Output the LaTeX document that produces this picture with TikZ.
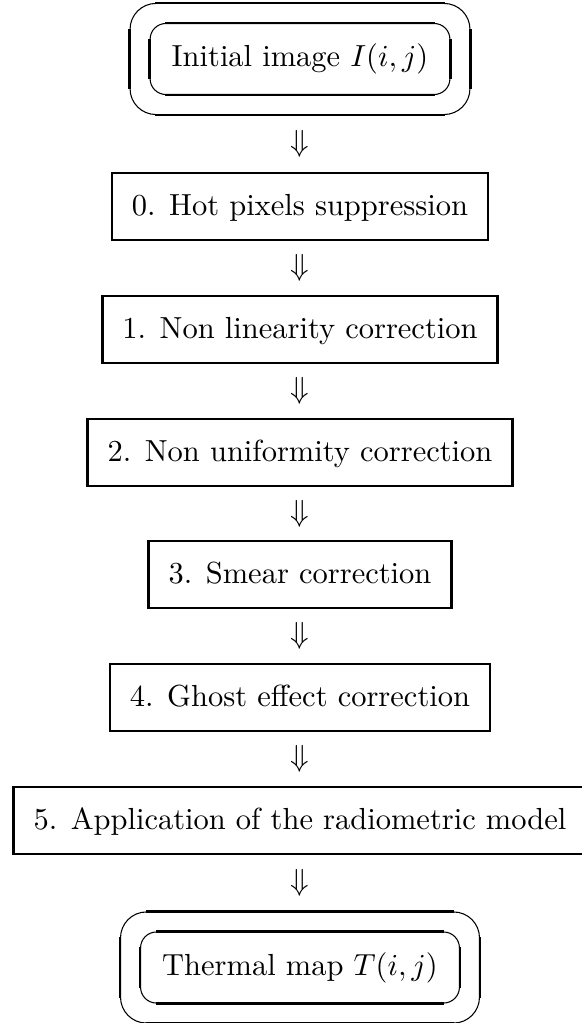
\documentclass[tikz,border=0pt]{standalone}
\usetikzlibrary{calc,fit}
\begin{document}
\begin{tikzpicture}[x=0.328pt,y=-0.328pt,
  stepbox/.style={draw, line width=0.8pt, inner xsep=6.6pt, inner ysep=6.23pt, text height=7.7pt, text depth=1.8pt},
  ovalin/.style={draw, line width=0.35pt, rounded corners=5.2pt, inner xsep=7.1pt, minimum height=23.3pt, text height=7.7pt, text depth=2.5pt},
  ovalout/.style={draw, line width=0.35pt, rounded corners=8.5pt, inner sep=6.4pt},
  thickedge/.style={line width=0.85pt},
  flow/.style={inner sep=0pt}]
\useasboundingbox (0,0) rectangle (582,1023);
% terminal boxes
\node[ovalin] (iI) at (300,59) {Initial image $I(i,j)$};
\node[ovalout, fit=(iI)] (oI) {};
\node[ovalin] (iT) at (300,967.5) {Thermal map $T(i,j)$};
\node[ovalout, fit=(iT)] (oT) {};
% process boxes
\node[stepbox] (b0) at (300,206.5) {0. Hot pixels suppression};
\node[stepbox] (b1) at (300,329.5) {1. Non linearity correction};
\node[stepbox] (b2) at (300,452.5) {2. Non uniformity correction};
\node[stepbox] (b3) at (300,574.5) {3. Smear correction};
\node[stepbox] (b4) at (300,697.5) {4. Ghost effect correction};
\node[stepbox] (b5) at (300,820.5) {5. Application of the radiometric model};
% thick straight parts of the oval frames
\foreach \n/\r in {iI/5.2pt, oI/8.5pt, iT/5.2pt, oT/8.5pt} {
  \draw[thickedge] ($(\n.north west)+(\r,0pt)$) -- ($(\n.north east)+(-\r,0pt)$);
  \draw[thickedge] ($(\n.south west)+(\r,0pt)$) -- ($(\n.south east)+(-\r,0pt)$);
  \draw[thickedge] ($(\n.north west)+(0pt,-\r)$) -- ($(\n.south west)+(0pt,\r)$);
  \draw[thickedge] ($(\n.north east)+(0pt,-\r)$) -- ($(\n.south east)+(0pt,\r)$);
}
% flow arrows
\node[flow] (a0) at ($(oI.south)!0.5!(b0.north)$) {$\Downarrow$};
\node[flow] (a1) at ($(b0.south)!0.5!(b1.north)$) {$\Downarrow$};
\node[flow] (a2) at ($(b1.south)!0.5!(b2.north)$) {$\Downarrow$};
\node[flow] (a3) at ($(b2.south)!0.5!(b3.north)$) {$\Downarrow$};
\node[flow] (a4) at ($(b3.south)!0.5!(b4.north)$) {$\Downarrow$};
\node[flow] (a5) at ($(b4.south)!0.5!(b5.north)$) {$\Downarrow$};
\node[flow] (a6) at ($(b5.south)!0.5!(oT.north)$) {$\Downarrow$};
\end{tikzpicture}
\end{document}
